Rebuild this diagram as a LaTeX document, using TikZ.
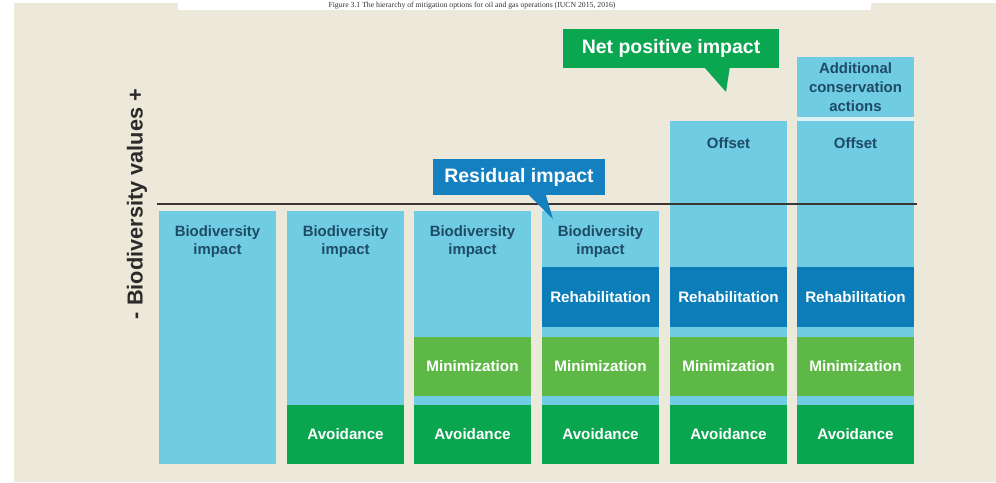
\documentclass[tikz,border=0pt]{standalone}
\usepackage{fontspec}
\setmainfont{Liberation Sans}
\newfontfamily\capfont{Liberation Serif}
\usetikzlibrary{calc}
\definecolor{bgbeige}{HTML}{ECE9DA}
\definecolor{lightblue}{HTML}{6FCCE2}
\definecolor{rehabblue}{HTML}{0B7DB9}
\definecolor{mingreen}{HTML}{5DB846}
\definecolor{avgreen}{HTML}{0AA54F}
\definecolor{resblue}{HTML}{1580C0}
\definecolor{netgreen}{HTML}{0BA650}
\definecolor{labeltext}{HTML}{1E4B66}
\definecolor{axistext}{HTML}{2B2B2B}
\definecolor{zeroline}{HTML}{3A3733}
\definecolor{gapwhite}{HTML}{DDF1F5}
\tikzset{
  seglabel/.style={text=white, font=\bfseries\fontsize{11.4}{13}\selectfont, inner sep=0pt},
  implabel/.style={text=labeltext, font=\bfseries\fontsize{11.2}{13.5}\selectfont, align=center, inner sep=0pt},
  callout/.style={text=white, font=\bfseries\fontsize{14.6}{16}\selectfont, inner sep=0pt},
}
\begin{document}
\begin{tikzpicture}[x=0.75pt,y=-0.75pt]
\useasboundingbox (0,0) rectangle (996,482);
\fill[white] (0,0) rectangle (996,482);
\fill[bgbeige] (14,3) rectangle (996,482);
% caption band
\fill[white] (178,0) rectangle (871,10);
\node[anchor=base, text=black!80, font=\capfont\fontsize{5.8}{6}\selectfont, inner sep=0pt] (caption) at (472,7.6)
    {Figure 3.1 The hierarchy of mitigation options for oil and gas operations (IUCN 2015, 2016)};

% columns: light blue bodies
\fill[lightblue] (159,211) rectangle (276,464);
\fill[lightblue] (287,211) rectangle (404,464);
\fill[lightblue] (414,211) rectangle (531,464);
\fill[lightblue] (542,211) rectangle (659,464);
\fill[lightblue] (670,121) rectangle (787,464);
\fill[lightblue] (797,121) rectangle (914,464);
\fill[lightblue] (797,57) rectangle (914,117);
\fill[gapwhite] (797,117) rectangle (914,121);

% avoidance
\foreach \l in {287,414,542,670,797}{\fill[avgreen] (\l,405) rectangle ++(117,59);}
% minimization
\foreach \l in {414,542,670,797}{\fill[mingreen] (\l,337) rectangle ++(117,59);}
% rehabilitation
\foreach \l in {542,670,797}{\fill[rehabblue] (\l,267) rectangle ++(117,60);}

% zero line
\draw[zeroline, line width=1.4pt] (157,204) -- (917,204);

% labels
\node[implabel] (bi1) at (217.5,242) {Biodiversity\\impact};
\node[implabel] (bi2) at (345.5,242) {Biodiversity\\impact};
\node[implabel] (bi3) at (472.5,242) {Biodiversity\\impact};
\node[implabel] (bi4) at (600.5,242) {Biodiversity\\impact};
\node[implabel] (off5) at (728.5,143) {Offset};
\node[implabel] (off6) at (855.5,143) {Offset};
\node[implabel, font=\bfseries\fontsize{11.2}{14}\selectfont] (add6) at (855.5,87) {Additional\\conservation\\actions};

\node[seglabel] (rh4) at (600.5,297) {Rehabilitation};
\node[seglabel] (rh5) at (728.5,297) {Rehabilitation};
\node[seglabel] (rh6) at (855.5,297) {Rehabilitation};
\node[seglabel] (mn3) at (472.5,366.5) {Minimization};
\node[seglabel] (mn4) at (600.5,366.5) {Minimization};
\node[seglabel] (mn5) at (728.5,366.5) {Minimization};
\node[seglabel] (mn6) at (855.5,366.5) {Minimization};
\node[seglabel] (av2) at (345.5,434.5) {Avoidance};
\node[seglabel] (av3) at (472.5,434.5) {Avoidance};
\node[seglabel] (av4) at (600.5,434.5) {Avoidance};
\node[seglabel] (av5) at (728.5,434.5) {Avoidance};
\node[seglabel] (av6) at (855.5,434.5) {Avoidance};

% axis label
\node[rotate=90, text=axistext, font=\bfseries\fontsize{16.3}{18}\selectfont, inner sep=0pt] (axis) at (137,204) {- Biodiversity values +};

% callouts
\node[callout, fill=resblue, minimum width=129pt, minimum height=27pt] (res) at (519,177) {Residual impact};
\coordinate (restip) at (553,219);
\fill[resblue] ($(res.south west)+(96,-0.5)$) -- ($(res.south west)+(113,-0.5)$) -- (restip) -- cycle;

\node[callout, fill=netgreen, minimum width=162pt, minimum height=29.25pt] (net) at (671,48.5) {Net positive impact};
\coordinate (nettip) at (726,92);
\fill[netgreen] ($(net.south west)+(142,-0.5)$) -- ($(net.south west)+(167,-0.5)$) -- (nettip) -- cycle;
\end{tikzpicture}
\end{document}
